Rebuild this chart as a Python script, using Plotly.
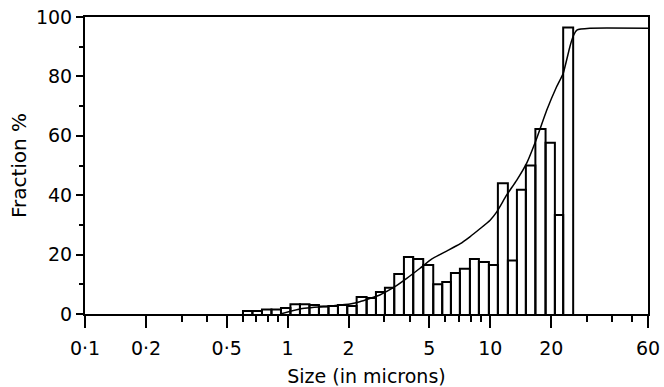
import plotly.graph_objects as go

# Bin edges (microns) and histogram fractions (%)
bin_edges = [0.602, 0.670, 0.747, 0.832, 0.927, 1.032, 1.150, 1.281, 1.427, 1.590,
             1.771, 1.968, 2.190, 2.453, 2.727, 3.020, 3.357, 3.748, 4.165, 4.667,
             5.229, 5.790, 6.393, 7.079, 7.933, 8.785, 9.842, 10.90, 12.21, 13.53,
             14.98, 16.69, 18.74, 20.83, 22.89, 25.64]
bin_fraction = [1.0, 1.0, 1.5, 1.5, 2.0, 3.3, 3.3, 3.0, 2.5, 2.7,
                3.0, 2.7, 5.7, 5.4, 7.4, 8.8, 13.5, 19.2, 18.5, 16.5,
                10.0, 10.8, 13.8, 15.2, 18.5, 17.5, 16.5, 44.0, 18.0, 41.8,
                50.0, 62.3, 57.7, 33.3, 96.5]

# Cumulative curve
cum_size = [0.92, 1.15, 1.62, 2.03, 2.27, 2.85, 3.38, 3.87, 4.5, 5.13, 6.09, 7.08,
            7.93, 8.89, 9.95, 10.74, 12.03, 13.49, 15.1, 16.92, 18.96, 21.24,
            22.89, 24.7, 25.64, 26.74, 31.0, 60.0]
cum_fraction = [0.0, 1.7, 2.7, 3.4, 4.1, 6.4, 9.2, 12.0, 15.4, 18.5, 21.2, 23.6,
                26.0, 28.7, 31.5, 34.3, 40.0, 45.0, 50.7, 59.0, 68.5, 76.5,
                81.0, 90.0, 93.5, 95.6, 96.2, 96.2]

x_tickvals = [0.1, 0.2, 0.5, 1, 2, 5, 10, 20, 60]
x_ticktext = ["0\u00b71", "0\u00b72", "0\u00b75", "1", "2", "5", "10", "20", "60"]
x_minor = [0.3, 0.4, 0.6, 0.7, 0.8, 0.9, 3, 4, 6, 7, 8, 9, 30, 40, 50]
y_tickvals = [0, 20, 40, 60, 80, 100]
y_minor = [10, 30, 50, 70, 90]

bx, by = [], []
for i, h in enumerate(bin_fraction):
    l, r = bin_edges[i], bin_edges[i + 1]
    bx += [l, l, r, r, None]
    by += [0, h, h, 0, None]

fig = go.Figure()
fig.add_trace(go.Scatter(x=bx, y=by, mode="lines",
                         line=dict(color="black", width=2), hoverinfo="skip"))
fig.add_trace(go.Scatter(x=cum_size, y=cum_fraction, mode="lines",
                         line=dict(color="black", width=1.5, shape="spline", smoothing=0.4)))

fig.update_layout(
    width=664, height=387,
    margin=dict(l=85, r=16, t=17, b=73),
    paper_bgcolor="white", plot_bgcolor="white",
    showlegend=False,
    font=dict(family="DejaVu Sans", size=18, color="black"),
    xaxis=dict(
        type="log", range=[-1, 1.7782], automargin=False,
        tickmode="array", tickvals=x_tickvals, ticktext=x_ticktext,
        ticks="outside", ticklen=12, tickwidth=1.5, tickcolor="black",
        ticklabelstandoff=4,
        minor=dict(tickvals=x_minor, ticks="outside", ticklen=6, tickwidth=1.5,
                   tickcolor="black", showgrid=False),
        showline=True, linecolor="black", linewidth=2, mirror=True,
        showgrid=False, zeroline=False,
        tickfont=dict(size=19),
        title=dict(text="Size (in microns)", font=dict(size=19), standoff=12),
    ),
    yaxis=dict(
        range=[0, 100], automargin=False,
        tickmode="array", tickvals=y_tickvals,
        ticks="outside", ticklen=7, tickwidth=1.5, tickcolor="black",
        minor=dict(tickvals=y_minor, ticks="outside", ticklen=4, tickwidth=1.5,
                   tickcolor="black", showgrid=False),
        showline=True, linecolor="black", linewidth=2, mirror=True,
        showgrid=False, zeroline=False,
        tickfont=dict(size=19),
        title=dict(text="Fraction %", font=dict(size=20), standoff=4),
    ),
)
fig.write_html("out.html")
